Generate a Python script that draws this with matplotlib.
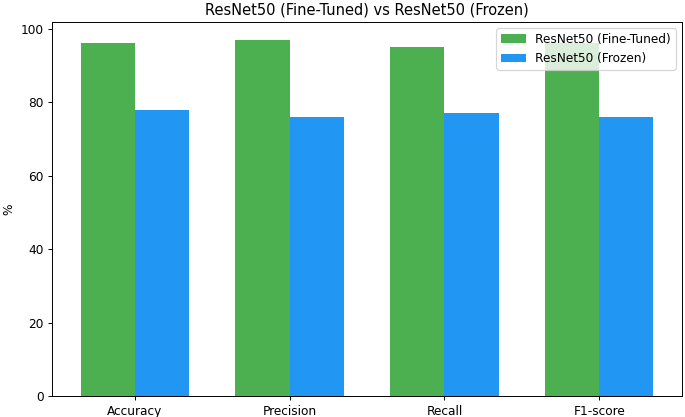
import matplotlib
matplotlib.use("Agg")
import matplotlib.pyplot as plt
import numpy as np

metrics = ["Accuracy", "Precision", "Recall", "F1-score"]
fine_tuned = [96, 97, 95, 96]
frozen = [78, 76, 77, 76]

s = 0.875
fig, ax = plt.subplots(figsize=(6.85 / s, 4.17 / s), dpi=100 * s)
x = np.arange(len(metrics))
w = 0.35
ax.bar(x - w/2, fine_tuned, w, label="ResNet50 (Fine-Tuned)", color="#4CAF50")
ax.bar(x + w/2, frozen, w, label="ResNet50 (Frozen)", color="#2196F3")
ax.set_xticks(x)
ax.set_xticklabels(metrics)
ax.set_ylabel("%")
ax.set_title("ResNet50 (Fine-Tuned) vs ResNet50 (Frozen)")
ax.legend(loc="upper right")
fig.subplots_adjust(left=52/685, right=682/685, top=1 - 22/417, bottom=1 - 396/417)
fig.savefig("out.png", dpi=100 * s)
